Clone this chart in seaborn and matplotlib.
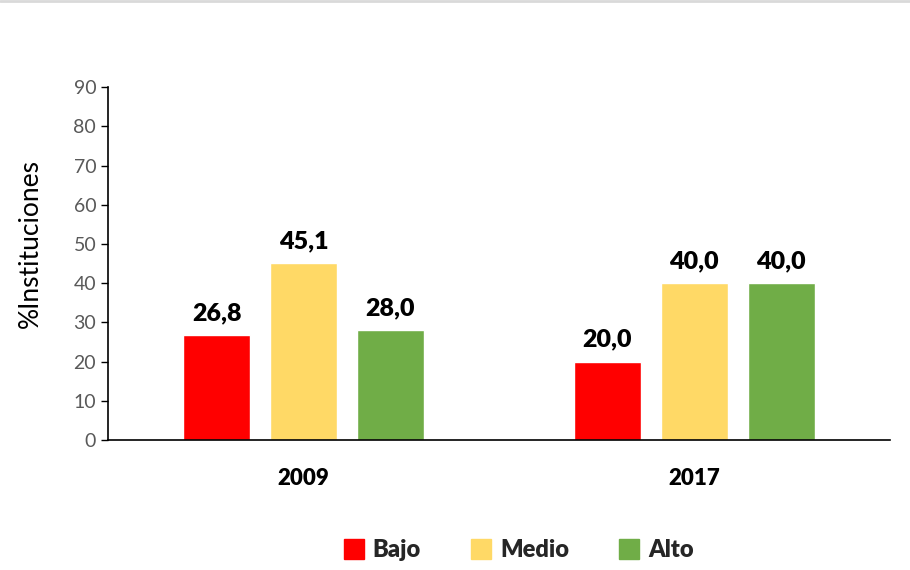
import pandas as pd
import matplotlib.pyplot as plt
import seaborn as sns
from matplotlib.lines import Line2D

years = ["2009", "2017"]
niveles = ["Bajo", "Medio", "Alto"]
bajo = [26.8, 20.0]
medio = [45.1, 40.0]
alto = [28.0, 40.0]
colores = {"Bajo": "#FF0000", "Medio": "#FFD966", "Alto": "#70AD47"}

df = pd.DataFrame({
    "Año": years * 3,
    "Nivel": ["Bajo"] * 2 + ["Medio"] * 2 + ["Alto"] * 2,
    "Valor": bajo + medio + alto,
})

sns.set_style("white")
plt.rcParams["font.family"] = ["Lato", "DejaVu Sans"]

fig = plt.figure(figsize=(9.1, 5.7), dpi=100)
ax = fig.add_axes([0.1187, 0.228, 0.859, 0.619])

sns.barplot(data=df, x="Año", y="Valor", hue="Nivel", hue_order=niveles,
            palette=colores, width=0.667, gap=0.23, ax=ax, legend=False,
            saturation=1)

for cont in ax.containers:
    ax.bar_label(cont, labels=[f"{v:.1f}".replace(".", ",") for v in cont.datavalues],
                 padding=8, fontsize=18, fontweight="heavy", color="black")

ax.set_ylim(0, 90)
ax.set_yticks(range(0, 91, 10))
ax.set_xlim(-0.5, 1.5)
ax.set_xlabel("")
ax.set_ylabel("%Instituciones", fontsize=19, color="black")
ax.yaxis.set_label_coords(-0.083, 0.558)
ax.tick_params(axis="y", labelcolor="#595959", labelsize=14, length=5, width=1,
               direction="out", left=True, color="black")
ax.tick_params(axis="x", labelsize=16, length=0, pad=20, labelcolor="black")
for lab in ax.get_xticklabels():
    lab.set_fontweight("heavy")
for s in ["top", "right"]:
    ax.spines[s].set_visible(False)
for s in ["left", "bottom"]:
    ax.spines[s].set_color("black")
    ax.spines[s].set_linewidth(1.2)

handles = [Line2D([0], [0], marker="s", linestyle="", markersize=14,
                  markerfacecolor=colores[n], markeredgecolor=colores[n]) for n in niveles]
fig.legend(handles, niveles, loc="center", bbox_to_anchor=(0.568, 0.035), ncol=3,
           frameon=False, prop={"size": 17, "weight": "heavy"},
           handletextpad=0.2, columnspacing=1.95, handlelength=1.2)

fig.add_artist(Line2D([0, 1], [0.998, 0.998], color="#D9D9D9", linewidth=2,
                      transform=fig.transFigure))

fig.savefig("out.png", dpi=100)
